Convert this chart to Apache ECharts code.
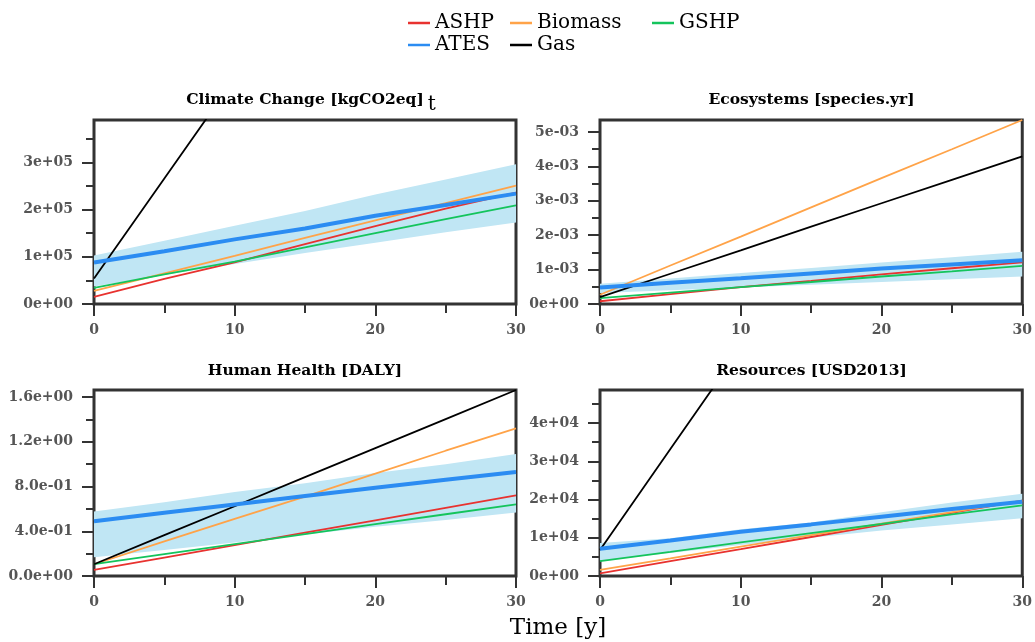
<!DOCTYPE html>
<html><head><meta charset="utf-8">
<script src="https://cdn.jsdelivr.net/npm/echarts@6/dist/echarts.min.js"></script>
<style>html,body{margin:0;padding:0;background:#fff}#c{width:1035px;height:642px}</style>
</head><body><div id="c"></div>
<script>
// ---------------- DATA ----------------
const years = [0, 5, 10, 15, 20, 25, 30];
const seriesNames = ['ASHP', 'Biomass', 'GSHP', 'Gas', 'ATES'];
const panelTitles = ['Climate Change [kgCO2eq]', 'Ecosystems [species.yr]', 'Human Health [DALY]', 'Resources [USD2013]'];
const titleSuffix = ['t', '', '', ''];
const xLabel = 'Time [y]';

// Climate Change [kgCO2eq]
const cc_ASHP    = [15000, 53000, 88000, 127000, 165000, 202000, 236000];
const cc_Biomass = [28000, 65000, 102000, 140000, 177000, 214000, 251000];
const cc_GSHP    = [34000, 63000, 90000, 120000, 150000, 180000, 209000];
const cc_Gas     = [54000, 266000, 478000, 690000, 902000, 1114000, 1326000];
const cc_ATES    = [88000, 112000, 137000, 160000, 187000, 210000, 234000];
const cc_bandUp  = [103000, 134000, 166000, 197000, 232000, 264000, 296000];
const cc_bandLo  = [37000, 62000, 85000, 108000, 130000, 152000, 173000];

// Ecosystems [species.yr]
const eco_ASHP    = [0.00008, 0.00029, 0.00049, 0.00067, 0.00086, 0.00104, 0.00121];
const eco_Biomass = [0.00027, 0.00112, 0.00196, 0.00281, 0.00366, 0.00450, 0.00535];
const eco_GSHP    = [0.00017, 0.00033, 0.00049, 0.00064, 0.00080, 0.00095, 0.00111];
const eco_Gas     = [0.00020, 0.00088, 0.00156, 0.00225, 0.00293, 0.00361, 0.00429];
const eco_ATES    = [0.00048, 0.00062, 0.00075, 0.00089, 0.00103, 0.00115, 0.00127];
const eco_bandUp  = [0.00059, 0.00074, 0.00090, 0.00105, 0.00121, 0.00136, 0.00152];
const eco_bandLo  = [0.00032, 0.00040, 0.00048, 0.00056, 0.00064, 0.00072, 0.00080];

// Human Health [DALY]
const hh_ASHP    = [0.054, 0.165, 0.276, 0.387, 0.498, 0.609, 0.72];
const hh_Biomass = [0.105, 0.31, 0.51, 0.71, 0.915, 1.12, 1.32];
const hh_GSHP    = [0.107, 0.196, 0.285, 0.374, 0.463, 0.552, 0.64];
const hh_Gas     = [0.105, 0.365, 0.624, 0.884, 1.144, 1.403, 1.663];
const hh_ATES    = [0.49, 0.565, 0.64, 0.715, 0.79, 0.86, 0.93];
const hh_bandUp  = [0.576, 0.66, 0.75, 0.83, 0.92, 1.0, 1.09];
const hh_bandLo  = [0.167, 0.233, 0.30, 0.37, 0.44, 0.50, 0.567];

// Resources [USD2013]
const res_ASHP    = [700, 3900, 7000, 10200, 13400, 16500, 19700];
const res_Biomass = [1600, 4600, 7700, 10700, 13700, 16700, 19700];
const res_GSHP    = [3900, 6300, 8800, 11200, 13600, 16100, 18500];
const res_Gas     = [6800, 33200, 59600, 86000, 112400, 138800, 165200];
const res_ATES    = [7100, 9300, 11600, 13500, 15500, 17500, 19400];
const res_bandUp  = [8600, 9900, 12200, 14000, 16700, 19200, 21500];
const res_bandLo  = [4000, 6000, 8100, 10000, 11900, 13500, 15100];

// axis ticks
const cc_ticks  = [0, 100000, 200000, 300000];
const cc_minor  = [50000, 150000, 250000, 350000];
const eco_ticks = [0, 0.001, 0.002, 0.003, 0.004, 0.005];
const eco_minor = [0.0005, 0.0015, 0.0025, 0.0035, 0.0045];
const hh_ticks  = [0, 0.4, 0.8, 1.2, 1.6];
const hh_minor  = [0.2, 0.6, 1.0, 1.4];
const res_ticks = [0, 10000, 20000, 30000, 40000];
const res_minor = [5000, 15000, 25000, 35000, 45000];
const yMax = [390000, 0.00535, 1.663, 48650];
const labelDigits = [0, 0, 1, 0];

// ---------------- STYLE ----------------
const colors = { ASHP: '#e8322f', Biomass: '#ffa348', GSHP: '#14c45c', Gas: '#000000', ATES: '#2b8cf2' };
const bandColor = '#c0e6f4';
const FONT = 'DejaVu Serif';
const grids = [
  { left: 94, top: 120, width: 422, height: 184 },
  { left: 600, top: 120, width: 423, height: 184 },
  { left: 94, top: 390, width: 422, height: 186 },
  { left: 600, top: 390, width: 423, height: 186 }
];
const titleY = [100, 100, 371, 371];

const panels = [
  { ASHP: cc_ASHP, Biomass: cc_Biomass, GSHP: cc_GSHP, Gas: cc_Gas, ATES: cc_ATES, up: cc_bandUp, lo: cc_bandLo, ticks: cc_ticks, minor: cc_minor },
  { ASHP: eco_ASHP, Biomass: eco_Biomass, GSHP: eco_GSHP, Gas: eco_Gas, ATES: eco_ATES, up: eco_bandUp, lo: eco_bandLo, ticks: eco_ticks, minor: eco_minor },
  { ASHP: hh_ASHP, Biomass: hh_Biomass, GSHP: hh_GSHP, Gas: hh_Gas, ATES: hh_ATES, up: hh_bandUp, lo: hh_bandLo, ticks: hh_ticks, minor: hh_minor },
  { ASHP: res_ASHP, Biomass: res_Biomass, GSHP: res_GSHP, Gas: res_Gas, ATES: res_ATES, up: res_bandUp, lo: res_bandLo, ticks: res_ticks, minor: res_minor }
];

function sci(v, d) {
  return Number(v).toExponential(d).replace(/e([+-])(\d)$/, 'e$10$2');
}
const pair = arr => years.map((y, k) => [y, arr[k]]);

const xAxes = [], yAxes = [], series = [], graphics = [];
const tickStyle = { color: '#333', width: 2 };
const mctx = document.createElement('canvas').getContext('2d');

panels.forEach((p, i) => {
  xAxes.push({
    gridIndex: i, type: 'value', min: 0, max: 30, interval: 10,
    axisLine: { show: false },
    axisTick: { show: true, length: 12, lineStyle: tickStyle },
    minorTick: { show: true, splitNumber: 2, length: 9, lineStyle: tickStyle },
    splitLine: { show: false }, minorSplitLine: { show: false },
    axisLabel: { show: true, margin: 19, fontFamily: FONT, fontWeight: 'bold', fontSize: 14, color: '#555' }
  });
  const step = p.ticks[1];
  yAxes.push({
    gridIndex: i, type: 'value', position: 'left', min: 0, max: yMax[i], interval: step,
    axisLine: { show: false },
    axisTick: { show: true, length: 12, lineStyle: tickStyle, customValues: p.ticks },
    splitLine: { show: false },
    axisLabel: { show: true, margin: 21, showMaxLabel: false, fontFamily: FONT, fontWeight: 'bold', fontSize: 14, color: '#555',
      formatter: v => sci(v, labelDigits[i]) }
  });
  yAxes.push({
    gridIndex: i, type: 'value', position: 'left', offset: 0, min: 0, max: yMax[i], interval: step / 2,
    axisLine: { show: false },
    axisTick: { show: true, length: 8, lineStyle: tickStyle, customValues: p.minor },
    splitLine: { show: false },
    axisLabel: { show: false }
  });
  const yi = 2 * i;
  const lo = p.lo, up = p.up;
  series.push({
    type: 'custom', name: 'band_' + i, xAxisIndex: i, yAxisIndex: yi, silent: true, z: 1, clip: true,
    data: years.map((y, k) => [y, lo[k], up[k]]),
    encode: { x: 0, y: [1, 2] },
    renderItem: (params, api) => {
      if (params.dataIndex !== 0) return null;
      const pts = [];
      years.forEach((y, k) => pts.push(api.coord([y, up[k]])));
      for (let k = years.length - 1; k >= 0; k--) pts.push(api.coord([years[k], lo[k]]));
      return { type: 'polygon', shape: { points: pts }, style: { fill: bandColor } };
    }
  });
  seriesNames.forEach(n => {
    series.push({
      type: 'line', name: n, xAxisIndex: i, yAxisIndex: yi, data: pair(p[n]),
      showSymbol: false, clip: true, color: colors[n],
      lineStyle: { color: colors[n], width: n === 'ATES' ? 4 : 1.8 }, z: n === 'ATES' ? 4 : 3
    });
  });
  const g = grids[i];
  const cx = g.left + g.width / 2;
  graphics.push({
    type: 'text', x: cx, y: titleY[i],
    style: { text: panelTitles[i], font: 'bold 15.5px "' + FONT + '"', fill: '#000', align: 'center', verticalAlign: 'middle' }
  });
  if (titleSuffix[i]) {
    mctx.font = 'bold 15.5px "' + FONT + '"';
    const w = mctx.measureText(panelTitles[i]).width;
    graphics.push({
      type: 'text', x: cx + w / 2 + 4, y: titleY[i] + 5,
      style: { text: titleSuffix[i], font: '20px "' + FONT + '"', fill: '#000', align: 'left', verticalAlign: 'middle' }
    });
  }
});

graphics.push({
  type: 'text', x: 558, y: 628,
  style: { text: xLabel, font: '23px "' + FONT + '"', fill: '#000', align: 'center', verticalAlign: 'middle' }
});

const legendBase = {
  orient: 'vertical', top: 8, itemGap: 2, itemWidth: 22, itemHeight: 2.5, icon: 'rect',
  textStyle: { fontFamily: FONT, fontSize: 20, color: '#000' }, selectedMode: false
};

const option = {
  animation: false,
  backgroundColor: '#fff',
  grid: grids.map(g => Object.assign({ show: true, borderColor: '#333', borderWidth: 3, backgroundColor: 'transparent' }, g)),
  legend: [
    Object.assign({ left: 403, data: ['ASHP', 'ATES'] }, legendBase),
    Object.assign({ left: 505, data: ['Biomass', 'Gas'] }, legendBase),
    Object.assign({ left: 647, data: ['GSHP'] }, legendBase)
  ],
  xAxis: xAxes,
  yAxis: yAxes,
  series: series,
  graphic: graphics
};

const chart = echarts.init(document.getElementById('c'), null, { renderer: 'canvas' });
chart.setOption(option);
</script></body></html>
